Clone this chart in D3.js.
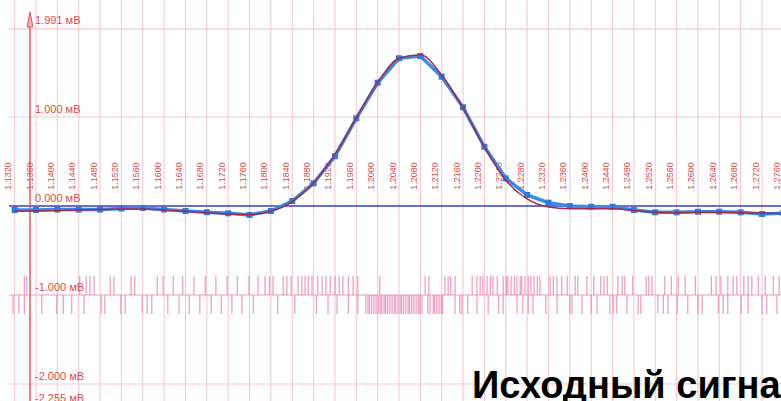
<!DOCTYPE html>
<html>
<head>
<meta charset="utf-8">
<script src="https://cdn.jsdelivr.net/npm/d3@7"></script>
<style>
  body { margin: 0; background: #fff; }
  svg { display: block; font-family: Arial, "Liberation Sans", sans-serif; }
</style>
</head>
<body>
<div id="chart"></div>
<script>
// sample times (s), one marker per grid step
var sampleTimes = [1.1320, 1.1360, 1.1400, 1.1440, 1.1480, 1.1520, 1.1560, 1.1600, 1.1640, 1.1680,
  1.1720, 1.1760, 1.1800, 1.1840, 1.1880, 1.1920, 1.1960, 1.2000, 1.2040, 1.2080,
  1.2120, 1.2160, 1.2200, 1.2240, 1.2280, 1.2320, 1.2360, 1.2400, 1.2440, 1.2480,
  1.2520, 1.2560, 1.2600, 1.2640, 1.2680, 1.2720, 1.2760];

// measured signal, mV
var measured = [-0.045, -0.045, -0.04, -0.04, -0.04, -0.028, -0.022, -0.04, -0.056, -0.07,
  -0.082, -0.10, -0.056, 0.056, 0.255, 0.56, 0.985, 1.385, 1.66, 1.685,
  1.453, 1.109, 0.666, 0.311, 0.124, 0.037, 0.0, -0.008, -0.008, -0.045,
  -0.071, -0.071, -0.064, -0.064, -0.071, -0.09, -0.079];

// fitted curve, mV
var fitted = [-0.06, -0.055, -0.05, -0.045, -0.04, -0.035, -0.035, -0.045, -0.06, -0.075,
  -0.09, -0.095, -0.06, 0.05, 0.26, 0.58, 0.99, 1.39, 1.66, 1.70,
  1.47, 1.10, 0.66, 0.29, 0.08, -0.01, -0.03, -0.03, -0.03, -0.05,
  -0.07, -0.075, -0.07, -0.07, -0.075, -0.08, -0.085];

// grid labels along time
var timeLabels = ["1.1320", "1.1360", "1.1400", "1.1440", "1.1480", "1.1520", "1.1560", "1.1600",
  "1.1640", "1.1680", "1.1720", "1.1760", "1.1800", "1.1840", "1.1880", "1.1920", "1.1960",
  "1.2000", "1.2040", "1.2080", "1.2120", "1.2160", "1.2200", "1.2240", "1.2280", "1.2320",
  "1.2360", "1.2400", "1.2440", "1.2480", "1.2520", "1.2560", "1.2600", "1.2640", "1.2680",
  "1.2720", "1.2760"];

// voltage levels
var voltLevels = [1.991, 1.000, 0.000, -1.000, -2.000, -2.255];
var voltLabels = ["1.991 мВ", "1.000 мВ", "0.000 мВ", "-1.000 мВ", "-2.000 мВ", "-2.255 мВ"];

// event marks on the -1 mV track
var eventsUp = [1.1338, 1.1343, 1.1442, 1.1454, 1.1461, 1.1469, 1.1499, 1.1506, 1.1538, 1.1545,
  1.1587, 1.1598, 1.1617, 1.1635, 1.1656, 1.1677, 1.1697, 1.1718, 1.1737, 1.1759, 1.1776,
  1.1789, 1.1797, 1.1804, 1.1823, 1.1830, 1.1838, 1.1851, 1.1858, 1.1864, 1.1870, 1.1877,
  1.1888, 1.1896, 1.1903, 1.1911, 1.1920, 1.1928, 1.1935, 1.1945, 1.1954, 1.1963, 1.2004,
  1.2089, 1.2096, 1.2126, 1.2132, 1.2137, 1.2145, 1.2177, 1.2186, 1.2192, 1.2197, 1.2205,
  1.2211, 1.2216, 1.2224, 1.2235, 1.2241, 1.2244, 1.2250, 1.2256, 1.2261, 1.2267, 1.2270,
  1.2276, 1.2282, 1.2287, 1.2293, 1.2299, 1.2304, 1.2323, 1.2329, 1.2336, 1.2345, 1.2355,
  1.2370, 1.2375, 1.2392, 1.2405, 1.2418, 1.2424, 1.2430, 1.2450, 1.2458, 1.2463, 1.2478,
  1.2503, 1.2508, 1.2514, 1.2538, 1.2550, 1.2563, 1.2576, 1.2595, 1.2625, 1.2634, 1.2643,
  1.2656, 1.2666, 1.2673, 1.2686, 1.2694, 1.2701, 1.2713, 1.2726, 1.2741, 1.2752];
var eventsDown = [1.1317, 1.1328, 1.1338, 1.1371, 1.1399, 1.1411, 1.1427, 1.1450, 1.1482, 1.1489,
  1.1519, 1.1527, 1.1559, 1.1568, 1.1577, 1.1607, 1.1628, 1.1647, 1.1667, 1.1688, 1.1707,
  1.1727, 1.1746, 1.1767, 1.1813, 1.1845, 1.1885, 1.1907, 1.1924, 1.1945, 1.1963,
  1.1978, 1.1982, 1.1985, 1.1989, 1.1993, 1.1997, 1.2001, 1.2005, 1.2008, 1.2012, 1.2015,
  1.2019, 1.2023, 1.2027, 1.2031, 1.2034, 1.2038, 1.2042, 1.2045, 1.2049, 1.2053, 1.2057,
  1.2060, 1.2064, 1.2068, 1.2072, 1.2076, 1.2079, 1.2083,
  1.2094, 1.2098, 1.2104, 1.2107, 1.2111, 1.2115, 1.2119, 1.2122,
  1.2145, 1.2154, 1.2158, 1.2169, 1.2186, 1.2207, 1.2227, 1.2235, 1.2261, 1.2272, 1.2282,
  1.2291, 1.2315, 1.2336, 1.2360, 1.2364, 1.2383, 1.2400, 1.2411, 1.2435, 1.2441, 1.2448,
  1.2467, 1.2488, 1.2493, 1.2525, 1.2535, 1.2544, 1.2561, 1.2581, 1.2600, 1.2608, 1.2638,
  1.2647, 1.2656, 1.2681, 1.2694, 1.2720, 1.2729, 1.2748];

var W = 781, H = 401;

var svg = d3.select("#chart").append("svg")
    .attr("width", W)
    .attr("height", H);

var x = d3.scaleLinear().domain([1.136, 1.272]).range([36, 762]);
var y = d3.scaleLinear().domain([0, 1]).range([206, 117]);

// vertical grid
svg.append("g")
  .selectAll("line")
  .data(timeLabels)
  .enter().append("line")
    .attr("x1", function(d) { return x(+d); })
    .attr("x2", function(d) { return x(+d); })
    .attr("y1", 0)
    .attr("y2", H)
    .attr("stroke", "#f3c4cc")
    .attr("stroke-width", 1);

// horizontal grid (not the 0 and -1 lines, drawn later)
svg.append("g")
  .selectAll("line")
  .data(voltLevels.filter(function(v) { return v !== 0 && v !== -1; }))
  .enter().append("line")
    .attr("x1", 9)
    .attr("x2", W)
    .attr("y1", function(d) { return y(d); })
    .attr("y2", function(d) { return y(d); })
    .attr("stroke", "#f5c8d0")
    .attr("stroke-width", 1.2);

// rotated time labels
svg.append("g")
  .selectAll("text")
  .data(timeLabels)
  .enter().append("text")
    .attr("transform", function(d) { return "translate(" + (x(+d) - 3.5) + ",176) rotate(-90)"; })
    .attr("text-anchor", "middle")
    .attr("font-size", 9)
    .attr("fill", "#dc4a4a")
    .text(function(d) { return d; });

// event track at -1 mV
var track = svg.append("g");
track.append("line")
    .attr("x1", 9).attr("x2", W)
    .attr("y1", y(-1)).attr("y2", y(-1))
    .attr("stroke", "#ee9cc0")
    .attr("stroke-width", 1.2);
track.selectAll("line.up")
  .data(eventsUp)
  .enter().append("line")
    .attr("class", "up")
    .attr("x1", function(d) { return x(d); })
    .attr("x2", function(d) { return x(d); })
    .attr("y1", y(-1))
    .attr("y2", y(-1) - 19)
    .attr("stroke", "#e985b3")
    .attr("stroke-width", 1);
track.selectAll("line.down")
  .data(eventsDown)
  .enter().append("line")
    .attr("class", "down")
    .attr("x1", function(d) { return x(d); })
    .attr("x2", function(d) { return x(d); })
    .attr("y1", y(-1))
    .attr("y2", y(-1) + 19)
    .attr("stroke", "#e985b3")
    .attr("stroke-width", 1);

// zero line
svg.append("line")
    .attr("x1", 9).attr("x2", W)
    .attr("y1", y(0)).attr("y2", y(0))
    .attr("stroke", "#3b3bc8")
    .attr("stroke-width", 1.5);

// voltage axis with arrow
svg.append("line")
    .attr("x1", 30).attr("x2", 30)
    .attr("y1", 14).attr("y2", H)
    .attr("stroke", "#e05a5a")
    .attr("stroke-width", 1.5);
svg.append("path")
    .attr("d", "M30,12 L33,27 L27,27 Z")
    .attr("fill", "#f3b0b0")
    .attr("stroke", "#e05a5a")
    .attr("stroke-width", 1);

// voltage labels
svg.append("g")
  .selectAll("text")
  .data(voltLevels)
  .enter().append("text")
    .attr("x", 35)
    .attr("y", function(d) { return y(d) - 4.5; })
    .attr("font-size", 11)
    .attr("fill", "#dc4a4a")
    .text(function(d, i) { return voltLabels[i]; });

// measured curve + markers
var pts = sampleTimes.map(function(t, i) { return {t: t, v: measured[i]}; });
var fitPts = sampleTimes.map(function(t, i) { return {t: t, v: fitted[i]}; });

var line = d3.line()
    .x(function(d) { return x(d.t); })
    .y(function(d) { return y(d.v); });

svg.append("path")
    .datum(pts)
    .attr("fill", "none")
    .attr("stroke", "#3d8ae6")
    .attr("stroke-width", 3.5)
    .attr("d", line);

svg.append("g")
  .selectAll("rect")
  .data(pts)
  .enter().append("rect")
    .attr("x", function(d) { return x(d.t) - 3; })
    .attr("y", function(d) { return y(d.v) - 3; })
    .attr("width", 6)
    .attr("height", 6)
    .attr("fill", "#2f78dc");

// fitted curve
svg.append("path")
    .datum(fitPts)
    .attr("fill", "none")
    .attr("stroke", "#a22a4e")
    .attr("stroke-width", 1.5)
    .attr("d", line.curve(d3.curveMonotoneX));

// caption
svg.append("text")
    .attr("x", 472)
    .attr("y", 398)
    .attr("font-size", 38)
    .attr("font-weight", "bold")
    .attr("fill", "#000")
    .text("Исходный сигнал");
</script>
</body>
</html>
